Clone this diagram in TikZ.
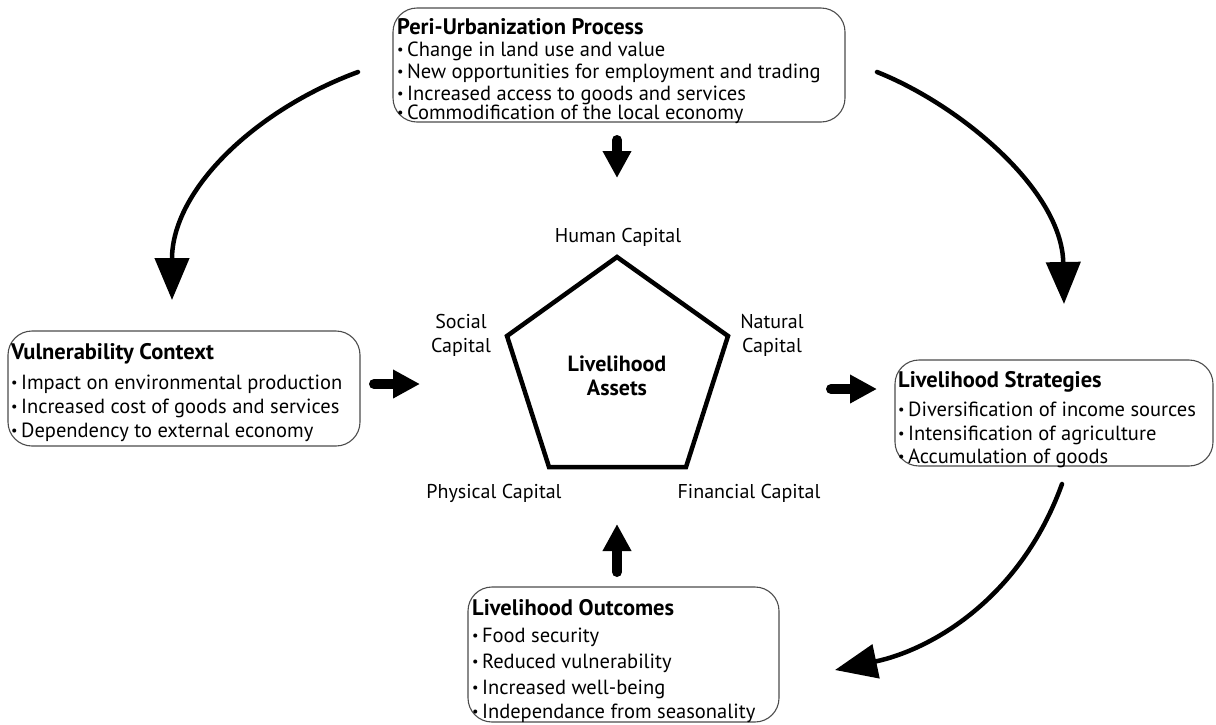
\documentclass[tikz,border=0pt]{standalone}
\usepackage{fontspec}
\setmainfont{PT Sans}
\usetikzlibrary{arrows.meta}
\newcommand{\bul}{\raisebox{0.12ex}{\scalebox{0.7}{•}}\,}
\begin{document}
\begin{tikzpicture}[x=1pt,y=-1pt,
  box/.style={draw=black!70, line width=1.1pt, rounded corners=24pt, inner sep=0pt},
  ttl/.style={anchor=base west, inner sep=0pt, font=\bfseries\fontsize{22.5}{26}\selectfont},
  itm/.style={anchor=base west, inner sep=0pt, font=\fontsize{20.5}{24}\selectfont},
  lbl/.style={inner sep=0pt, align=center, font=\fontsize{20}{24}\selectfont},
  curv/.style={line width=4.5pt, line cap=round, -{Triangle[length=42pt,width=34pt]}},
  blk/.style={line width=10pt, line cap=round, -{Triangle[length=27pt,width=27pt]}}]
\useasboundingbox[fill=white] (0,0) rectangle (1216,724);

% boxes
\node[box, minimum width=452pt, minimum height=114pt] (pbox) at (619,65) {};
\node[box, minimum width=352pt, minimum height=115pt] (vbox) at (184,388.5) {};
\node[box, minimum width=318pt, minimum height=106pt] (sbox) at (1054,413) {};
\node[box, minimum width=311pt, minimum height=135pt] (obox) at (623.5,654.5) {};

% top box text
\node[ttl] (pt) at (397,34) {Peri-Urbanization Process};
\node[itm] (p1) at (397,56) {\bul Change in land use and value};
\node[itm] (p2) at (397,78) {\bul New opportunities for employment and trading};
\node[itm] (p3) at (397,100) {\bul Increased access to goods and services};
\node[itm] (p4) at (397,119) {\bul Commodification of the local economy};

% left box text
\node[ttl] (vt) at (11,359) {Vulnerability Context};
\node[itm] (v1) at (11,389) {\bul Impact on environmental production};
\node[itm] (v2) at (11,413) {\bul Increased cost of goods and services};
\node[itm] (v3) at (11,437) {\bul Dependency to external economy};

% right box text
\node[ttl] (st) at (898,387) {Livelihood Strategies};
\node[itm] (s1) at (898,416) {\bul Diversification of income sources};
\node[itm] (s2) at (898,440) {\bul Intensification of agriculture};
\node[itm] (s3) at (898,463) {\bul Accumulation of goods};

% bottom box text
\node[ttl] (ot) at (472,615) {Livelihood Outcomes};
\node[itm] (o1) at (472,642) {\bul Food security};
\node[itm] (o2) at (472,668) {\bul Reduced vulnerability};
\node[itm] (o3) at (472,694) {\bul Increased well-being};
\node[itm] (o4) at (472,718) {\bul Independance from seasonality};

% pentagon
\coordinate (pa) at (617,257);
\coordinate (pb) at (728,336);
\coordinate (pc) at (686,467);
\coordinate (pd) at (549,467);
\coordinate (pe) at (507,336);
\draw[line width=4.5pt, line join=miter] (pa) -- (pb) -- (pc) -- (pd) -- (pe) -- cycle;
\node[lbl, font=\bfseries\fontsize{22}{24}\selectfont] (la) at (617,376) {Livelihood\\Assets};

\node[lbl] (hc) at (618,237) {Human Capital};
\node[lbl] (sc) at (461,335) {Social\\Capital};
\node[lbl] (nc) at (772,335) {Natural\\Capital};
\node[lbl] (phc) at (494,493) {Physical Capital};
\node[lbl] (fc) at (749,493) {Financial Capital};

% block arrows
\coordinate (d1) at (617,140);
\coordinate (d2) at (617,178);
\coordinate (l1) at (374,384);
\coordinate (l2) at (420,384);
\coordinate (r1) at (831,389);
\coordinate (r2) at (877,389);
\coordinate (u1) at (617,572);
\coordinate (u2) at (617,524);
\draw[blk] (d1) -- (d2);
\draw[blk] (l1) -- (l2);
\draw[blk] (r1) -- (r2);
\draw[blk] (u1) -- (u2);

% curved arrows
\coordinate (c1s) at (358,72);
\coordinate (c1e) at (172,300);
\coordinate (c2s) at (877,72);
\coordinate (c2e) at (1064,304);
\coordinate (c3s) at (1062,484);
\coordinate (c3e) at (835,670);
\draw[curv] (c1s) .. controls (255,110) and (172,190) .. (c1e);
\draw[curv] (c2s) .. controls (960,105) and (1062,190) .. (c2e);
\draw[curv] (c3s) .. controls (1020,600) and (930,650) .. (c3e);
\end{tikzpicture}
\end{document}
